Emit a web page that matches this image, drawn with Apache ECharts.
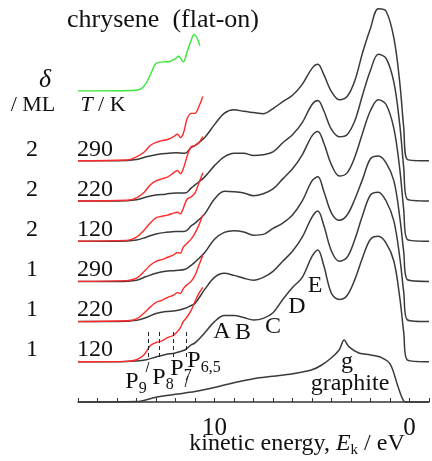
<!DOCTYPE html>
<html>
<head>
<meta charset="utf-8">
<script src="https://cdn.jsdelivr.net/npm/echarts@6/dist/echarts.min.js"></script>
<style>
  html, body { margin: 0; padding: 0; background: #fff; }
  #chart { width: 432px; height: 461px; }
</style>
</head>
<body>
<div id="chart"></div>
<script>
// kinetic energy grid (eV) for the film spectra
const energy = [17, 15, 14, 13.5, 13, 12.5, 12, 11.5, 11.2, 11, 10.5, 10, 9.5, 9, 8.5, 8, 7.5, 7, 6.5, 6,
  5.5, 5, 4.7, 4.4, 4, 3.6, 3.2, 2.8, 2.4, 2, 1.6, 1.2, 0.8, 0.5, 0.3, 0.1, -1];

// chrysene films, delta / ML and T / K
const ml2_290 = [0, 0, 0.03, 0.1, 0.15, 0.18, 0.2, 0.19, 0.33, 0.38, 0.58, 0.9, 1.18, 1.27, 1.23, 1.2, 1.17, 1.3, 1.47, 1.63,
  1.9, 2.3, 2.4, 2.15, 1.72, 1.52, 1.6, 2.0, 2.7, 3.3, 3.78, 3.72, 3.05, 1.95, 0.85, 0.03, 0];
const ml2_220 = [0, 0, 0.03, 0.1, 0.15, 0.17, 0.2, 0.2, 0.32, 0.4, 0.6, 0.88, 1.1, 1.19, 1.19, 1.13, 1.15, 1.22, 1.45, 1.65,
  1.95, 2.4, 2.5, 2.25, 1.78, 1.6, 1.65, 2.0, 2.65, 3.25, 3.65, 3.55, 2.95, 1.9, 0.85, 0.04, 0];
const ml2_120 = [0, 0, 0.03, 0.1, 0.18, 0.22, 0.24, 0.25, 0.38, 0.45, 0.68, 1.05, 1.24, 1.23, 1.2, 1.13, 1.18, 1.3, 1.55, 1.8,
  2.15, 2.62, 2.73, 2.45, 1.9, 1.62, 1.7, 2.1, 2.7, 3.25, 3.52, 3.4, 2.8, 1.8, 0.8, 0.04, 0];
const ml1_290 = [0, 0, 0.03, 0.12, 0.2, 0.25, 0.27, 0.3, 0.4, 0.48, 0.72, 1.05, 1.22, 1.26, 1.23, 1.15, 1.17, 1.32, 1.45, 1.65,
  2.0, 2.5, 2.6, 2.25, 1.7, 1.52, 1.65, 2.05, 2.55, 3.05, 3.12, 2.95, 2.5, 1.6, 0.75, 0.04, 0];
const ml1_220 = [0, 0, 0.03, 0.1, 0.2, 0.25, 0.27, 0.33, 0.4, 0.45, 0.8, 1.1, 1.2, 1.15, 1.08, 1.03, 1.1, 1.25, 1.5, 1.75,
  2.1, 2.6, 2.75, 2.4, 1.75, 1.5, 1.6, 2.05, 2.65, 3.15, 3.22, 3.0, 2.5, 1.6, 0.75, 0.04, 0];
const ml1_120 = [0, 0, 0.02, 0.05, 0.12, 0.18, 0.22, 0.3, 0.42, 0.47, 0.72, 1.0, 1.15, 1.15, 1.1, 1.04, 1.08, 1.22, 1.55, 1.85,
  2.1, 2.62, 2.78, 2.4, 1.7, 1.55, 1.65, 2.05, 2.6, 3.05, 3.12, 2.95, 2.5, 1.6, 0.75, 0.04, 0];

// red traces (high-energy part, scaled)
const redEnergy = [17, 14.5, 14, 13.6, 13.3, 13, 12.7, 12.4, 12.1, 11.9, 11.75, 11.6, 11.4, 11.2, 11, 10.8, 10.6];
const red2_290 = [0, 0.02, 0.1, 0.22, 0.38, 0.46, 0.5, 0.53, 0.6, 0.66, 0.58, 0.68, 1.05, 1.18, 1.18, 1.35, 1.6];
const red2_220 = [0, 0.02, 0.08, 0.22, 0.4, 0.5, 0.55, 0.6, 0.7, 0.76, 0.68, 0.8, 1.12, 1.35, 1.38, 1.45, 1.6];
const red2_120 = [0, 0.02, 0.1, 0.28, 0.45, 0.58, 0.62, 0.65, 0.7, 0.72, 0.68, 0.82, 1.05, 1.1, 1.2, 1.45, 1.7];
const red1_290 = [0, 0.02, 0.08, 0.25, 0.4, 0.5, 0.54, 0.6, 0.66, 0.72, 0.7, 0.85, 0.95, 1.05, 1.2, 1.4, 1.65];
const red1_220 = [0, 0.02, 0.07, 0.22, 0.36, 0.48, 0.53, 0.6, 0.66, 0.72, 0.7, 0.82, 0.92, 1.0, 1.15, 1.4, 1.65];
const red1_120 = [0, 0.01, 0.05, 0.18, 0.4, 0.48, 0.52, 0.6, 0.66, 0.75, 0.85, 1.0, 1.12, 1.28, 1.5, 1.7, 1.85];

// chrysene flat-on (green)
const greenEnergy = [17, 14.2, 13.8, 13.5, 13.2, 13, 12.6, 12.3, 12, 11.85, 11.6, 11.4, 11.2, 11.05, 10.9, 10.75];
const chryseneFlat = [0, 0.01, 0.04, 0.2, 0.5, 0.68, 0.72, 0.73, 0.8, 0.86, 0.72, 0.98, 1.25, 1.4, 1.32, 1.12];

// graphite
const graphEnergy = [17, 14, 13, 12, 11, 10, 9, 8, 7, 6, 5, 4.5, 4, 3.6, 3.35, 3.1, 2.6, 2, 1.5, 1, 0.6, 0.3, 0.1, -1];
const graphite = [0, 0.01, 0.12, 0.19, 0.26, 0.36, 0.48, 0.58, 0.64, 0.7, 0.8, 0.92, 1.1, 1.3, 1.54, 1.37, 1.22, 1.17, 1.12, 0.95, 0.4, 0.03, 0, 0];

// P peak positions (eV)
const peakEnergies = [13.42, 12.81, 12.09, 11.43];

const rowLabels = [['2', '290'], ['2', '220'], ['2', '120'], ['1', '290'], ['1', '220'], ['1', '120']];
const xTickLabels = [10, 0];

const blackSets = [ml2_290, ml2_220, ml2_120, ml1_290, ml1_220, ml1_120];
const redSets = [red2_290, red2_220, red2_120, red1_290, red1_220, red1_120];
const offsets = [6, 5, 4, 3, 2, 1];
const greenOffset = 7.74;

const serif = '"Liberation Serif", "Times New Roman", serif';

function shift(xs, ys, off) {
  return xs.map((x, i) => [x, ys[i] + off]);
}

const series = [];
blackSets.forEach((s, k) => {
  series.push({
    type: 'line', data: shift(energy, s, offsets[k]), smooth: 0.35, showSymbol: false,
    lineStyle: { color: '#3a3a3a', width: 1.5 }, z: 2, silent: true,
    markLine: k === 5 ? {
      symbol: 'none', silent: true, label: { show: false },
      lineStyle: { color: '#222', type: [4, 3], width: 1 },
      data: peakEnergies.map(e => [{ coord: [e, 1.74] }, { coord: [e, 1.05] }])
    } : undefined
  });
});
redSets.forEach((s, k) => {
  series.push({
    type: 'line', data: shift(redEnergy, s, offsets[k]), smooth: 0.35, showSymbol: false,
    lineStyle: { color: '#ff2a2a', width: 1.4 }, z: 3, silent: true
  });
});
series.push({
  type: 'line', data: shift(greenEnergy, chryseneFlat, greenOffset), smooth: 0.35, showSymbol: false,
  lineStyle: { color: '#39e639', width: 1.4 }, silent: true
});
series.push({
  type: 'line', data: shift(graphEnergy, graphite, 0), smooth: 0.35, showSymbol: false,
  lineStyle: { color: '#3a3a3a', width: 1.5 }, silent: true
});

function txt(x, y, text, size, extra) {
  return {
    type: 'text', x: x, y: y, z: 10,
    style: Object.assign({
      text: text, font: (size || 24) + 'px ' + serif, fill: '#111',
      align: 'center', verticalAlign: 'middle'
    }, extra || {})
  };
}

const subRich = { s: { font: '16px ' + serif, fill: '#111', padding: [14, 0, 0, 0] } };

const graphics = [
  txt(67, 20, 'chrysene  (flat-on)', 26, { align: 'left' }),
  txt(45, 80, 'δ', 26, { font: 'italic 26px ' + serif }),
  txt(33, 105, '/ ML', 22),
  txt(103, 105, '{i|T} / K', 22, { rich: { i: { font: 'italic 22px ' + serif, fill: '#111' } } }),
  txt(222, 332, 'A', 24), txt(243, 333, 'B', 24), txt(273, 327, 'C', 24),
  txt(297, 307, 'D', 24), txt(315, 286, 'E', 24),
  txt(347, 362, 'g', 24), txt(350, 384, 'graphite', 24),
  txt(136, 382, 'P{s|9}', 24, { rich: subRich }),
  txt(163, 378, 'P{s|8}', 24, { rich: subRich }),
  txt(181, 369, 'P{s|7}', 24, { rich: subRich }),
  txt(204, 361, 'P{s|6,5}', 24, { rich: subRich }),
  txt(297, 444, 'kinetic energy, {i|E}{s|k} / eV', 24, {
    rich: {
      i: { font: 'italic 24px ' + serif, fill: '#111' },
      s: { font: '15px ' + serif, fill: '#111', padding: [12, 0, 0, 0] }
    }
  }),
  { type: 'line', shape: { x1: 149, y1: 362, x2: 146, y2: 372 }, style: { stroke: '#222', lineWidth: 1 } },
  { type: 'line', shape: { x1: 188, y1: 376, x2: 185, y2: 387 }, style: { stroke: '#222', lineWidth: 1 } }
];
rowLabels.forEach((r, k) => {
  graphics.push(txt(32, 150 + k * 40, r[0], 24));
  graphics.push(txt(95, 150 + k * 40, r[1], 24));
});

const chart = echarts.init(document.getElementById('chart'));
chart.setOption({
  animation: false,
  backgroundColor: '#fff',
  grid: { left: 78, right: 2, top: 0, bottom: 55 },
  xAxis: {
    type: 'value', inverse: true, min: -1, max: 17, interval: 1,
    axisLine: { lineStyle: { color: '#333', width: 1.5 } },
    axisTick: { inside: true, length: 4, lineStyle: { color: '#333' } },
    splitLine: { show: false },
    axisLabel: {
      margin: 10, color: '#111', fontFamily: serif, fontSize: 25,
      formatter: v => (xTickLabels.indexOf(v) >= 0 ? String(v) : '')
    }
  },
  yAxis: { type: 'value', min: -0.1, max: 10, show: false },
  graphic: graphics,
  series: series
});
</script>
</body>
</html>
